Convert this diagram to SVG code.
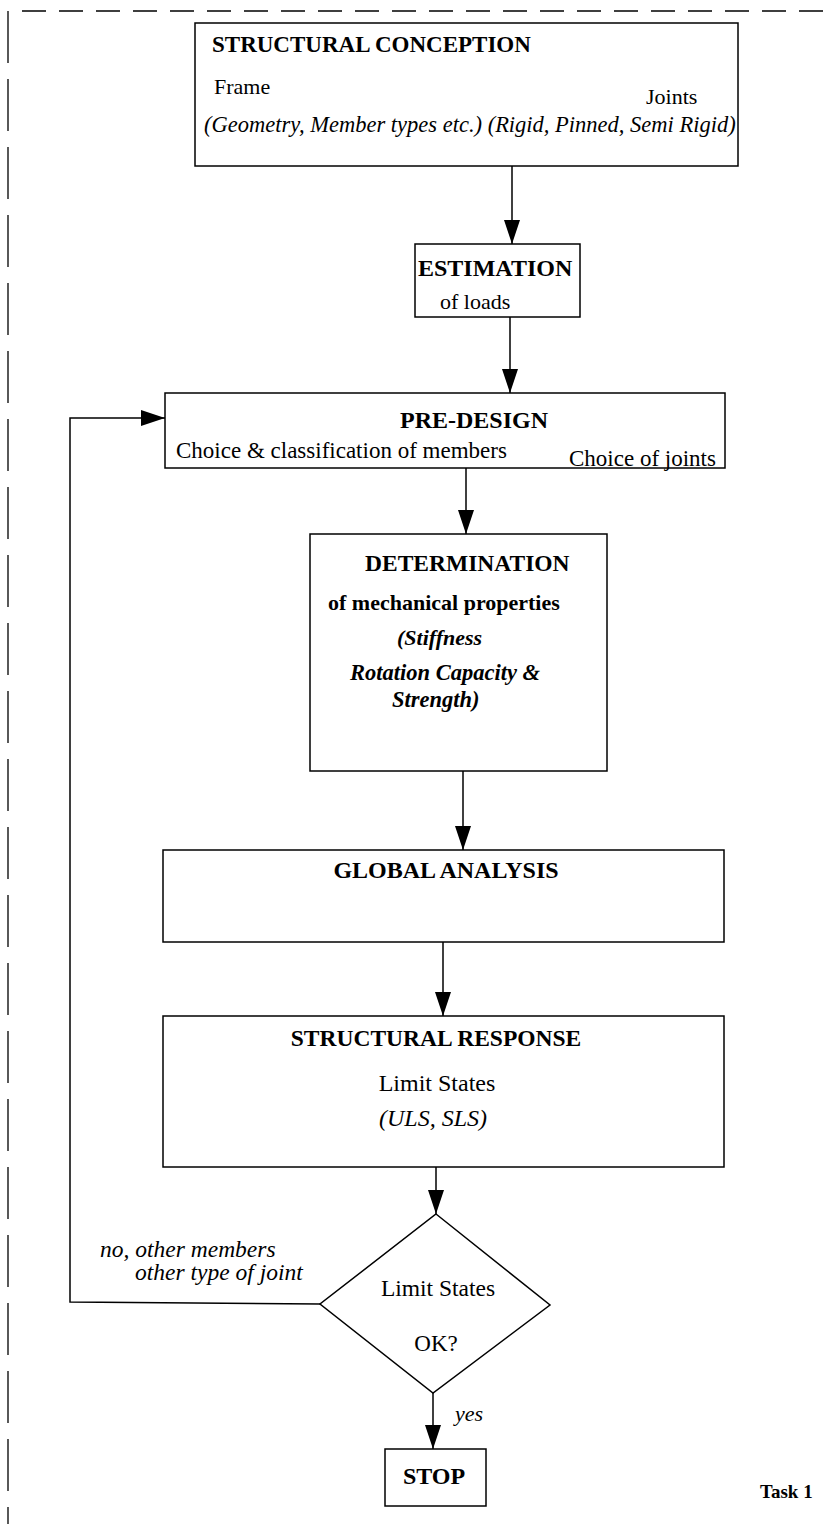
<svg xmlns="http://www.w3.org/2000/svg" width="826" height="1524" viewBox="0 0 826 1524">
<defs>
<marker id="ah" markerWidth="24" markerHeight="16" refX="24" refY="8" orient="auto" markerUnits="userSpaceOnUse" viewBox="0 0 24 16">
<path d="M0,0 L24,8 L0,16 Z" fill="#000"/>
</marker>
</defs>
<style>
.box{fill:#fff;stroke:#000;stroke-width:1.5}
.t{font-family:"Liberation Serif","Times New Roman",serif;font-size:22px;fill:#000}
.b{font-weight:bold;font-size:24px}
.i{font-style:italic}
.c{text-anchor:middle}
.ln{fill:none;stroke:#000;stroke-width:1.5}
.frame{fill:none;stroke:#000;stroke-width:1.3}
</style>
<rect width="826" height="1524" fill="#fff"/>
<g id="frame">
<line class="frame" x1="22" y1="11" x2="826" y2="11" stroke-dasharray="24,13"/>
<line class="frame" x1="8" y1="11" x2="8" y2="1524" stroke-dasharray="52,16"/>
</g>
<g id="connectors">
<line class="ln" x1="512" y1="166" x2="512" y2="244" marker-end="url(#ah)"/>
<line class="ln" x1="510" y1="317" x2="510" y2="393" marker-end="url(#ah)"/>
<line class="ln" x1="466" y1="468" x2="466" y2="534" marker-end="url(#ah)"/>
<line class="ln" x1="463" y1="771" x2="463" y2="850" marker-end="url(#ah)"/>
<line class="ln" x1="443" y1="942" x2="443" y2="1016" marker-end="url(#ah)"/>
<line class="ln" x1="436" y1="1167" x2="436" y2="1214" marker-end="url(#ah)"/>
<line class="ln" x1="433" y1="1393" x2="433" y2="1449" marker-end="url(#ah)"/>
<polyline class="ln" points="320,1304 70,1302 70,418 165,418" marker-end="url(#ah)"/>
<text class="t i" x="100" y="1257" style="font-size:23.5px">no, other members</text>
<text class="t i" x="135" y="1280" style="font-size:23.5px">other type of joint</text>
<text class="t i" x="455" y="1421" style="font-size:22px">yes</text>
</g>
<g id="n1">
<rect class="box" x="195" y="23" width="543" height="143"/>
<text class="t b" x="212" y="52" style="font-size:23px">STRUCTURAL CONCEPTION</text>
<text class="t" x="214" y="94">Frame</text>
<text class="t" x="646" y="104">Joints</text>
<text class="t i" x="204" y="132" style="font-size:22.5px">(Geometry, Member types etc.) (Rigid, Pinned, Semi Rigid)</text>
</g>
<g id="n2">
<rect class="box" x="415" y="244" width="165" height="73"/>
<text class="t b" x="418" y="276">ESTIMATION</text>
<text class="t" x="440" y="309">of loads</text>
</g>
<g id="n3">
<rect class="box" x="165" y="393" width="560" height="75"/>
<text class="t b c" x="474" y="428">PRE-DESIGN</text>
<text class="t" x="176" y="458" style="font-size:23px">Choice &amp; classification of members</text>
<text class="t" x="569" y="466" style="font-size:23px">Choice of joints</text>
</g>
<g id="n4">
<rect class="box" x="310" y="534" width="297" height="237"/>
<text class="t b" x="365" y="571" style="font-size:23.5px">DETERMINATION</text>
<text class="t b" x="328" y="610" style="font-size:22px">of mechanical properties</text>
<text class="t b i" x="397" y="645" style="font-size:22px">(Stiffness</text>
<text class="t b i" x="350" y="680" style="font-size:22.5px">Rotation Capacity &amp;</text>
<text class="t b i" x="392" y="707" style="font-size:22.5px">Strength)</text>
</g>
<g id="n5">
<rect class="box" x="163" y="850" width="561" height="92"/>
<text class="t b c" x="446" y="878">GLOBAL ANALYSIS</text>
</g>
<g id="n6">
<rect class="box" x="163" y="1016" width="561" height="151"/>
<text class="t b c" x="436" y="1046" style="font-size:23.5px">STRUCTURAL RESPONSE</text>
<text class="t c" x="437" y="1091" style="font-size:24px">Limit States</text>
<text class="t i c" x="433" y="1126" style="font-size:24px">(ULS, SLS)</text>
</g>
<g id="n7">
<polygon class="box" points="436,1214 550,1305 433,1393 320,1304"/>
<text class="t c" x="438" y="1296" style="font-size:23.5px">Limit States</text>
<text class="t c" x="436" y="1351" style="font-size:23px">OK?</text>
</g>
<g id="n8">
<rect class="box" x="385" y="1449" width="101" height="57"/>
<text class="t b c" x="434" y="1484" style="font-size:24px">STOP</text>
</g>
<g id="note">
<text class="t b" x="760" y="1498" style="font-size:19px">Task 1</text>
</g>
</svg>
